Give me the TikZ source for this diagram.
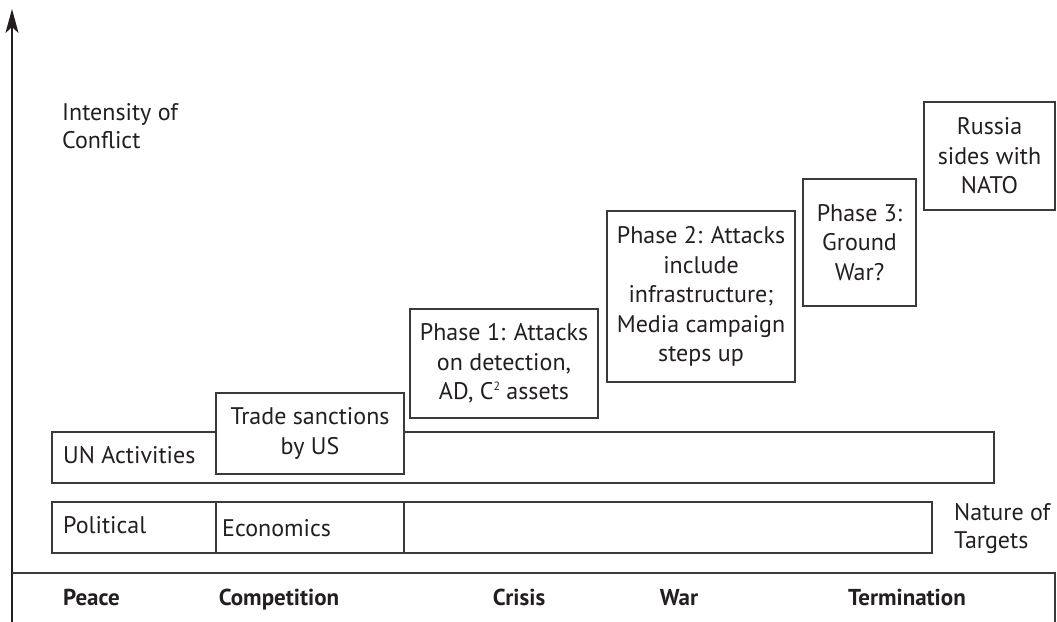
\documentclass[tikz,border=0pt]{standalone}
\usepackage{fontspec}
\setmainfont{PT Sans}
\usetikzlibrary{arrows.meta}
\definecolor{ink}{HTML}{231F20}
\definecolor{edge}{HTML}{3A3A3A}
\newcommand{\smallsup}[1]{\raisebox{0.75ex}{\fontsize{12}{12}\selectfont #1}}
\begin{document}
\begin{tikzpicture}[x=1pt,y=-1pt,
  every node/.style={text=ink, inner sep=0pt},
  txt/.style={font=\fontsize{24}{28}\selectfont},
  boldtxt/.style={font=\fontsize{23}{28}\selectfont\bfseries},
  phasebox/.style={draw=edge, line width=1.1pt, fill=white, align=center,
    font=\fontsize{24}{29.5}\selectfont},
  rowbox/.style={draw=edge, line width=1.1pt, fill=white},
  axisline/.style={draw=ink, line width=2.2pt},
  barline/.style={draw=edge, line width=1.3pt}]
\useasboundingbox (0,0) rectangle (1057,621);
% axis
\coordinate (axbot) at (12,623);
\coordinate (axtop) at (12,9);
\draw[axisline, -{Stealth[length=24pt,width=13pt,inset=6pt]}] (axbot) -- (axtop);
\node[txt, anchor=base west, align=left] (intensity) at (62,148) {Intensity of\\Conflict};
% bottom bar
\coordinate (bbl) at (12,573);
\coordinate (bbr) at (1055,573);
\coordinate (bbrb) at (1055,625);
\draw[barline] (bbl) -- (bbr) -- (bbrb);
\node[boldtxt, anchor=base west] (peace) at (63,605) {Peace};
\node[boldtxt, anchor=base] (comp) at (279,605) {Competition};
\node[boldtxt, anchor=base] (crisis) at (519,605) {Crisis};
\node[boldtxt, anchor=base] (war) at (679,605) {War};
\node[boldtxt, anchor=base] (term) at (907,605) {Termination};
% political row
\node[rowbox, minimum width=880pt, minimum height=51pt] (polrow) at (492,527.5) {};
\node[rowbox, minimum width=188pt, minimum height=51pt] (econ) at (310,527.5) {};
\node[txt, anchor=base west] (pollabel) at (63,533) {Political};
\node[txt, anchor=base west] (econlabel) at (222,536) {Economics};
\node[txt, anchor=base west, align=left] (nature) at (954,548) {Nature of\\Targets};
% UN row
\node[rowbox, minimum width=942pt, minimum height=51pt] (unrow) at (523,457.5) {};
\node[txt, anchor=base west] (unlabel) at (63,463) {UN Activities};
% phase boxes
\node[phasebox, minimum width=188pt, minimum height=81pt] (trade) at (310,433.5) {Trade sanctions\\by US};
\node[phasebox, minimum width=188pt, minimum height=109pt] (phase1) at (504,363.5) {Phase 1: Attacks\\on detection,\\AD, C\smallsup{2} assets};
\node[phasebox, minimum width=188pt, minimum height=171pt] (phase2) at (701,296.5) {Phase 2: Attacks\\include\\infrastructure;\\Media campaign\\steps up};
\node[phasebox, minimum width=113pt, minimum height=127pt] (phase3) at (859.5,242.5) {Phase 3:\\Ground\\War?};
\node[phasebox, minimum width=131pt, minimum height=108pt] (russia) at (989.5,156) {Russia\\sides with\\NATO};
\end{tikzpicture}
\end{document}
